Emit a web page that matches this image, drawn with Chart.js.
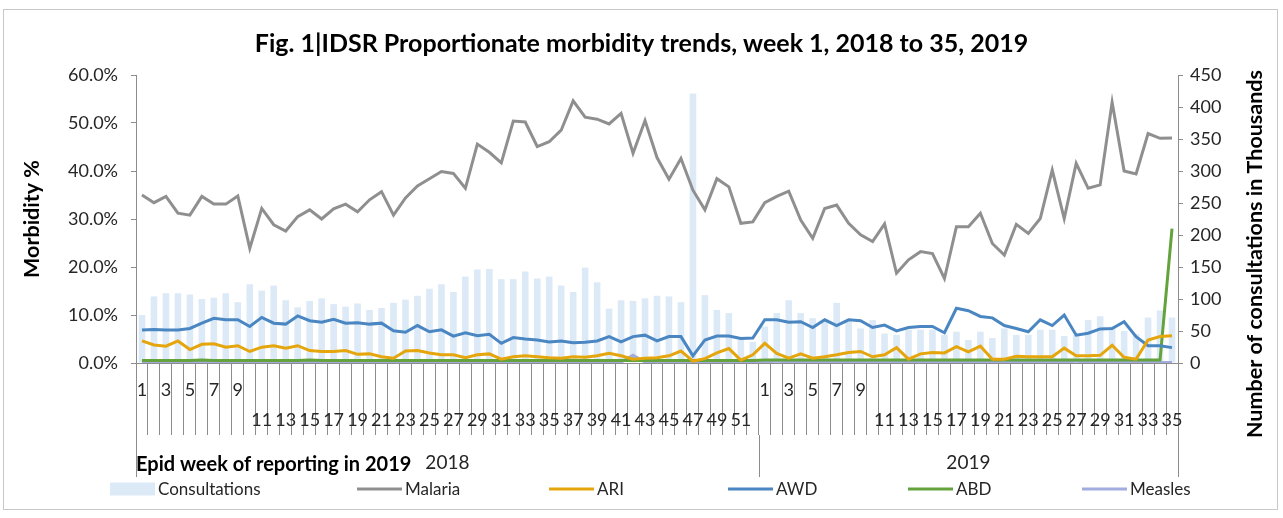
<!DOCTYPE html>
<html><head><meta charset="utf-8">
<script src="https://cdn.jsdelivr.net/npm/chart.js@4.4.0/dist/chart.umd.min.js"></script>
<style>html,body{margin:0;padding:0;background:#fff;}</style>
</head><body>
<canvas id="c" width="1283" height="518"></canvas>
<script>
// ---- data ----
const weekLabels = [1,2,3,4,5,6,7,8,9,10,11,12,13,14,15,16,17,18,19,20,21,22,23,24,25,26,27,28,29,30,31,32,33,34,35,36,37,38,39,40,41,42,43,44,45,46,47,48,49,50,51,52,
  1,2,3,4,5,6,7,8,9,10,11,12,13,14,15,16,17,18,19,20,21,22,23,24,25,26,27,28,29,30,31,32,33,34,35];
const years = ['2018', '2019'];
const weeksPerYear = [52, 35];
const consultations = [75,104,109,109,107,100,102,109,95,123,113,121,98,87,97,101,92,88,93,83,86,94,99,105,116,
  123,111,135,146,147,131,131,143,132,135,121,111,149,126,85,98,97,101,105,104,95,421,106,83,78,38,33,
  57,78,98,78,70,67,94,65,54,67,46,44,52,52,52,44,49,36,49,39,54,44,44,52,52,42,44,67,73,57,50,45,71,82,71];
const malaria = [35.0,33.4,34.7,31.2,30.8,34.7,33.1,33.1,34.8,23.9,32.2,28.8,27.5,30.5,31.9,30.0,32.1,33.1,31.5,34.0,35.7,30.8,34.4,36.9,38.4,
  39.9,39.5,36.4,45.6,43.9,41.7,50.4,50.2,45.1,46.1,48.5,54.6,51.2,50.8,49.8,52.0,43.7,50.5,42.8,38.3,42.6,36.0,31.9,38.4,36.7,29.1,29.4,
  33.4,34.7,35.8,29.8,26.0,32.2,32.9,29.1,26.7,25.3,29.0,18.7,21.5,23.2,22.8,17.6,
  28.4,28.4,31.2,24.9,22.5,28.9,27.0,30.1,40.2,30.1,41.6,36.4,37.1,54.3,40.0,39.4,47.8,46.8,46.9];
const ari = [4.6,3.75,3.5,4.6,2.8,3.9,4.0,3.3,3.6,2.4,3.3,3.6,3.1,3.6,2.6,2.4,2.4,2.6,1.8,1.9,1.3,1.0,2.5,2.6,2.1,
  1.7,1.7,1.1,1.7,1.9,0.8,1.3,1.5,1.3,1.1,1.0,1.3,1.2,1.5,2.0,1.5,0.8,1.0,1.1,1.5,2.5,0.4,0.9,2.1,3.0,0.6,1.7,
  4.1,2.0,1.0,1.9,1.0,1.3,1.7,2.2,2.4,1.3,1.7,3.2,0.8,1.9,2.2,2.1,
  3.4,2.3,3.5,0.8,0.8,1.4,1.3,1.3,1.3,3.1,1.5,1.5,1.6,3.7,1.2,0.8,4.8,5.5,5.7];
const awd = [6.9,7.0,6.9,6.9,7.2,8.3,9.3,9.0,9.0,7.6,9.5,8.3,8.1,9.8,8.8,8.5,9.1,8.3,8.4,8.1,8.3,6.7,6.4,7.8,6.5,
  6.9,5.6,6.3,5.7,6.0,4.1,5.3,5.0,4.8,4.4,4.6,4.2,4.3,4.6,5.5,4.4,5.5,5.8,4.6,5.5,5.5,1.5,4.8,5.6,5.6,5.1,5.2,
  9.0,9.0,8.5,8.6,7.4,9.0,7.8,9.0,8.8,7.4,7.9,6.7,7.4,7.6,7.6,6.3,
  11.4,10.9,9.7,9.4,7.8,7.2,6.5,9.0,7.8,10.0,5.8,6.2,7.1,7.2,8.6,5.5,3.6,3.6,3.2];
const abd = [0.5,0.5,0.5,0.5,0.5,0.6,0.5,0.5,0.5,0.5,0.5,0.5,0.5,0.5,0.6,0.5,0.5,0.5,0.5,0.5,0.5,0.5,0.5,0.5,0.5,
  0.5,0.5,0.5,0.5,0.5,0.5,0.5,0.5,0.5,0.5,0.5,0.5,0.5,0.5,0.5,0.5,0.5,0.5,0.5,0.5,0.5,0.5,0.5,0.5,0.5,0.5,0.5,
  0.6,0.6,0.6,0.6,0.6,0.6,0.6,0.6,0.6,0.6,0.6,0.6,0.6,0.6,0.6,0.6,
  0.6,0.6,0.6,0.6,0.6,0.6,0.6,0.6,0.6,0.6,0.6,0.6,0.6,0.6,0.6,0.6,0.6,0.6,28.0];
const measles = [0.1,0.1,0.1,0.1,0.1,0.1,0.1,0.1,0.1,0.1,0.1,0.1,0.1,0.1,0.1,0.1,0.1,0.1,0.1,0.1,0.1,0.1,0.1,0.1,0.1,
  0.1,0.1,0.1,0.1,0.1,0.1,0.1,0.1,0.1,0.1,0.1,0.1,0.1,0.1,0.1,0.2,1.6,0.2,0.1,0.1,0.1,0.1,0.1,0.1,0.1,0.1,0.2,
  0.2,0.4,0.2,0.1,0.1,0.1,0.1,0.1,0.1,0.1,0.1,0.1,0.1,0.1,0.1,0.1,
  0.1,0.1,0.1,0.1,0.1,0.1,0.1,0.1,0.1,0.1,0.4,0.1,0.1,0.1,0.1,0.1,0.1,0.1,0.1];
const leftTicks = [0, 10, 20, 30, 40, 50, 60];
const rightTicks = [0, 50, 100, 150, 200, 250, 300, 350, 400, 450];
const rightAxisTitle = 'Number of consultations in Thousands';

// ---- style ----
const FONT = "Lato, 'Open Sans', sans-serif";
const TXT = '#262626';
const AXIS = '#8c8c8c';
const LEGEND_SIZE = 17;
const LEGEND_BOX = 45;
const LEGEND_Y = 489;
const legendItemStartPx = [110, 357, 549, 728, 908, 1082]; // left edge of each legend swatch

Chart.defaults.font.family = FONT;
Chart.defaults.color = TXT;

const frame = {
  id: 'frame',
  beforeDraw(chart) {
    const ctx = chart.ctx;
    ctx.save();
    ctx.fillStyle = '#fff';
    ctx.fillRect(0, 0, chart.width, chart.height);
    ctx.strokeStyle = '#c8c8c8';
    ctx.lineWidth = 1;
    ctx.strokeRect(3.5, 9.5, 1274, 500);
    ctx.restore();
  }
};

const yearRow = {
  id: 'yearRow',
  afterDraw(chart) {
    const x = chart.scales.x;
    const ctx = chart.ctx;
    const y0 = x.top + 72, y1 = x.top + 114;
    ctx.save();
    ctx.strokeStyle = AXIS;
    ctx.lineWidth = 1;
    ctx.fillStyle = TXT;
    ctx.font = '19px ' + FONT;
    ctx.textAlign = 'center';
    ctx.textBaseline = 'middle';
    let start = 0;
    const bx = k => Math.round(x.getPixelForValue(k - 0.5)) + 0.5;
    ctx.beginPath();
    ctx.moveTo(bx(0), y0); ctx.lineTo(bx(0), y1);
    years.forEach((yr, i) => {
      const end = start + weeksPerYear[i];
      ctx.moveTo(bx(end), y0); ctx.lineTo(bx(end), y1);
      ctx.fillText(yr, (x.getPixelForValue(start - 0.5) + x.getPixelForValue(end - 0.5)) / 2, x.top + 100);
      start = end;
    });
    ctx.stroke();
    // right axis title, rotated to read bottom-to-top as in the original
    const r = chart.scales.y1;
    ctx.translate(r.right - 18, r.top + (r.bottom - r.top) / 2 + 35);
    ctx.rotate(-Math.PI / 2);
    ctx.font = 'bold 21.5px ' + FONT;
    ctx.fillStyle = '#000';
    ctx.fillText(rightAxisTitle, 0, 0);
    ctx.restore();
  }
};

// Excel-style legend: swatch + label for every dataset, spaced like the original
const excelLegend = {
  id: 'excelLegend',
  afterDraw(chart) {
    const ctx = chart.ctx;
    ctx.save();
    ctx.font = LEGEND_SIZE + 'px ' + FONT;
    ctx.textAlign = 'left';
    ctx.textBaseline = 'middle';
    chart.data.datasets.forEach((ds, i) => {
      const x0 = legendItemStartPx[i];
      if (ds.type === 'bar') {
        ctx.fillStyle = ds.backgroundColor;
        ctx.fillRect(x0, LEGEND_Y - 6.5, LEGEND_BOX, 13);
      } else {
        ctx.strokeStyle = ds.borderColor;
        ctx.lineWidth = ds.borderWidth;
        ctx.beginPath();
        ctx.moveTo(x0, LEGEND_Y);
        ctx.lineTo(x0 + LEGEND_BOX, LEGEND_Y);
        ctx.stroke();
      }
      ctx.fillStyle = TXT;
      ctx.fillText(ds.label, x0 + LEGEND_BOX + 3, LEGEND_Y + 1);
    });
    ctx.restore();
  }
};

const lineDs = (label, data, color) => ({
  type: 'line', label, data, borderColor: color, backgroundColor: color,
  borderWidth: 3, pointRadius: 0, tension: 0, yAxisID: 'y', order: 0
});

new Chart(document.getElementById('c'), {
  data: {
    labels: weekLabels,
    datasets: [
      { type: 'bar', label: 'Consultations', data: consultations, backgroundColor: '#dce9f6',
        borderWidth: 0, yAxisID: 'y1', order: 1, barPercentage: 0.55, categoryPercentage: 1 },
      lineDs('Malaria', malaria, '#8f8f8f'),
      lineDs('ARI', ari, '#e5a50c'),
      lineDs('AWD', awd, '#4a86c1'),
      lineDs('ABD', abd, '#64a23c'),
      lineDs('Measles', measles, '#a2acdf')
    ]
  },
  options: {
    responsive: false,
    devicePixelRatio: 1,
    animation: false,
    layout: { padding: { top: 10, left: 10, right: 10, bottom: 41 } },
    plugins: {
      title: {
        display: true,
        text: 'Fig. 1|IDSR Proportionate morbidity trends, week 1, 2018 to 35, 2019',
        font: { size: 25, weight: 'bold' },
        color: '#000',
        padding: { top: 19, bottom: 16 }
      },
      legend: { display: false },
      tooltip: { enabled: false }
    },
    scales: {
      x: {
        type: 'category',
        offset: true,
        afterFit: s => { s.height = 114; },
        grid: { offset: true, drawOnChartArea: false, drawTicks: true, tickLength: 72, color: AXIS },
        border: { display: true, color: AXIS },
        ticks: {
          autoSkip: false, maxRotation: 0, minRotation: 0, padding: -60,
          font: { size: 18, lineHeight: 1.667 }, color: TXT,
          callback: (v, i) => {
            const w = weekLabels[i];
            if (w % 2 === 0) return '';
            return w < 10 ? String(w) : ['', String(w)];
          }
        },
        title: { display: true, text: 'Epid week of reporting in 2019', align: 'start',
          font: { size: 20, weight: 'bold' }, color: '#000', padding: { top: 0, bottom: 0 } }
      },
      y: {
        position: 'left',
        min: 0, max: 60,
        afterFit: s => { s.width = 126; },
        afterBuildTicks: s => { s.ticks = leftTicks.map(v => ({ value: v })); },
        grid: { drawOnChartArea: false, tickLength: 5, color: AXIS },
        border: { display: true, color: AXIS },
        ticks: { padding: 13, font: { size: 18 }, color: TXT, callback: v => v.toFixed(1) + '%' },
        title: { display: true, text: 'Morbidity %', font: { size: 21.5, weight: 'bold' }, color: '#000', padding: { top: 9 } }
      },
      y1: {
        position: 'right',
        min: 0, max: 450,
        afterFit: s => { s.width = 95; },
        afterBuildTicks: s => { s.ticks = rightTicks.map(v => ({ value: v })); },
        grid: { drawOnChartArea: false, tickLength: 5, color: AXIS },
        border: { display: true, color: AXIS },
        ticks: { padding: 7, font: { size: 18 }, color: TXT },
        title: { display: false }
      }
    }
  },
  plugins: [frame, yearRow, excelLegend]
});
</script>
</body></html>
